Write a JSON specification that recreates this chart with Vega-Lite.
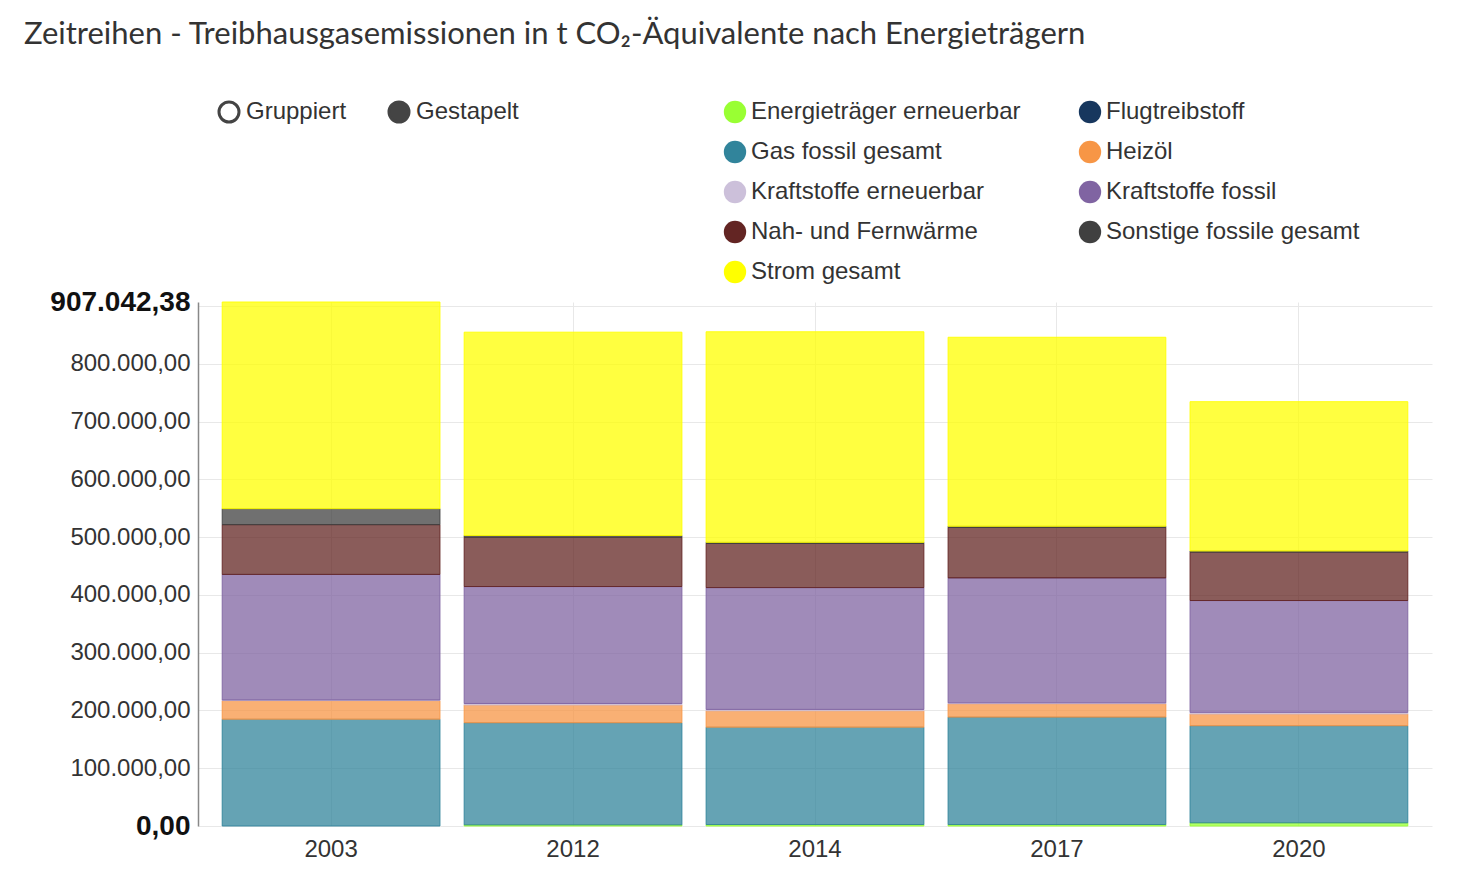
{
  "$schema": "https://vega.github.io/schema/vega-lite/v6.json",
  "autosize": {"type": "none"},
  "width": 1234,
  "height": 524,
  "padding": {"left": 198, "top": 302, "right": 28, "bottom": 53},
  "background": "white",
  "title": {
    "text": "Zeitreihen - Treibhausgasemissionen in t CO₂-Äquivalente nach Energieträgern",
    "anchor": "start",
    "frame": "group",
    "orient": "top",
    "offset": 49,
    "dx": -174,
    "font": "Lato",
    "fontSize": 31,
    "fontWeight": "normal",
    "color": "#333333"
  },
  "config": {
    "locale": {"number": {"decimal": ",", "thousands": ".", "grouping": [3], "currency": ["", " €"]}},
    "view": {"stroke": null},
    "axis": {"labelFont": "Liberation Sans", "labelColor": "#333333"}
  },
  "layer": [
    {
      "data": {
        "values": [
          {"Jahr": "2003", "Energietraeger": "Gas fossil gesamt", "Wert": 184900},
          {"Jahr": "2003", "Energietraeger": "Heizöl", "Wert": 32200},
          {"Jahr": "2003", "Energietraeger": "Kraftstoffe erneuerbar", "Wert": 1000},
          {"Jahr": "2003", "Energietraeger": "Kraftstoffe fossil", "Wert": 217400},
          {"Jahr": "2003", "Energietraeger": "Nah- und Fernwärme", "Wert": 86100},
          {"Jahr": "2003", "Energietraeger": "Sonstige fossile gesamt", "Wert": 27700},
          {"Jahr": "2003", "Energietraeger": "Strom gesamt", "Wert": 357742.38},
          {"Jahr": "2012", "Energietraeger": "Energieträger erneuerbar", "Wert": 2000},
          {"Jahr": "2012", "Energietraeger": "Gas fossil gesamt", "Wert": 176800},
          {"Jahr": "2012", "Energietraeger": "Heizöl", "Wert": 30700},
          {"Jahr": "2012", "Energietraeger": "Kraftstoffe erneuerbar", "Wert": 2600},
          {"Jahr": "2012", "Energietraeger": "Kraftstoffe fossil", "Wert": 202400},
          {"Jahr": "2012", "Energietraeger": "Nah- und Fernwärme", "Wert": 85400},
          {"Jahr": "2012", "Energietraeger": "Sonstige fossile gesamt", "Wert": 2900},
          {"Jahr": "2012", "Energietraeger": "Strom gesamt", "Wert": 352000},
          {"Jahr": "2014", "Energietraeger": "Energieträger erneuerbar", "Wert": 2500},
          {"Jahr": "2014", "Energietraeger": "Gas fossil gesamt", "Wert": 168600},
          {"Jahr": "2014", "Energietraeger": "Heizöl", "Wert": 28400},
          {"Jahr": "2014", "Energietraeger": "Kraftstoffe erneuerbar", "Wert": 2300},
          {"Jahr": "2014", "Energietraeger": "Kraftstoffe fossil", "Wert": 210900},
          {"Jahr": "2014", "Energietraeger": "Nah- und Fernwärme", "Wert": 76300},
          {"Jahr": "2014", "Energietraeger": "Sonstige fossile gesamt", "Wert": 2000},
          {"Jahr": "2014", "Energietraeger": "Strom gesamt", "Wert": 364500},
          {"Jahr": "2017", "Energietraeger": "Energieträger erneuerbar", "Wert": 2500},
          {"Jahr": "2017", "Energietraeger": "Gas fossil gesamt", "Wert": 186000},
          {"Jahr": "2017", "Energietraeger": "Heizöl", "Wert": 23200},
          {"Jahr": "2017", "Energietraeger": "Kraftstoffe erneuerbar", "Wert": 1500},
          {"Jahr": "2017", "Energietraeger": "Kraftstoffe fossil", "Wert": 216300},
          {"Jahr": "2017", "Energietraeger": "Nah- und Fernwärme", "Wert": 87300},
          {"Jahr": "2017", "Energietraeger": "Sonstige fossile gesamt", "Wert": 2000},
          {"Jahr": "2017", "Energietraeger": "Strom gesamt", "Wert": 327200},
          {"Jahr": "2020", "Energietraeger": "Energieträger erneuerbar", "Wert": 5500},
          {"Jahr": "2020", "Energietraeger": "Gas fossil gesamt", "Wert": 168100},
          {"Jahr": "2020", "Energietraeger": "Heizöl", "Wert": 20300},
          {"Jahr": "2020", "Energietraeger": "Kraftstoffe erneuerbar", "Wert": 2800},
          {"Jahr": "2020", "Energietraeger": "Kraftstoffe fossil", "Wert": 193600},
          {"Jahr": "2020", "Energietraeger": "Nah- und Fernwärme", "Wert": 83700},
          {"Jahr": "2020", "Energietraeger": "Sonstige fossile gesamt", "Wert": 2000},
          {"Jahr": "2020", "Energietraeger": "Strom gesamt", "Wert": 258500}
        ]
      },
      "mark": {"type": "bar", "fillOpacity": 0.75, "strokeWidth": 1, "strokeOpacity": 0.9},
      "encoding": {
        "x": {
          "field": "Jahr",
          "type": "ordinal",
          "scale": {"paddingInner": 0.1, "paddingOuter": 0.1},
          "axis": {
            "title": null,
            "domain": false,
            "ticks": false,
            "grid": true,
            "gridColor": "#e8e8e8",
            "bandPosition": 0.5,
            "labelAngle": 0,
            "labelFontSize": 24,
            "labelPadding": 11
          }
        },
        "y": {
          "field": "Wert",
          "type": "quantitative",
          "stack": "zero",
          "scale": {"domain": [0, 907042.38], "nice": false, "zero": true},
          "axis": {
            "title": null,
            "values": [0, 100000, 200000, 300000, 400000, 500000, 600000, 700000, 800000, 900000, 907042.38],
            "format": ",.2f",
            "labelExpr": "datum.value == 900000 ? '' : datum.label",
            "ticks": false,
            "domain": true,
            "domainColor": "#888888",
            "domainWidth": 1.5,
            "grid": true,
            "gridColor": "#e8e8e8",
            "gridOpacity": {"condition": {"test": "datum.value > 900001", "value": 0}, "value": 1},
            "labelPadding": 8,
            "labelFontSize": {"condition": {"test": "datum.value == 0 || datum.value > 900001", "value": 28}, "value": 24},
            "labelFontWeight": {"condition": {"test": "datum.value == 0 || datum.value > 900001", "value": "bold"}, "value": "normal"},
            "labelColor": {"condition": {"test": "datum.value == 0 || datum.value > 900001", "value": "#111111"}, "value": "#333333"}
          }
        },
        "order": {"field": "Energietraeger", "sort": "ascending"},
        "color": {
          "field": "Energietraeger",
          "type": "nominal",
          "scale": {
            "domain": ["Energieträger erneuerbar", "Flugtreibstoff", "Gas fossil gesamt", "Heizöl", "Kraftstoffe erneuerbar", "Kraftstoffe fossil", "Nah- und Fernwärme", "Sonstige fossile gesamt", "Strom gesamt"],
            "range": ["#99ff33", "#17375e", "#31849b", "#f79646", "#ccc0da", "#8064a2", "#632523", "#404040", "#ffff00"]
          },
          "legend": {
            "title": null,
            "orient": "none",
            "legendX": 525,
            "legendY": -202,
            "columns": 2,
            "direction": "horizontal",
            "symbolType": "circle",
            "symbolSize": 500,
            "symbolStrokeWidth": 0,
            "symbolOpacity": 1,
            "labelFont": "Liberation Sans",
            "labelFontSize": 24,
            "labelColor": "#333333",
            "labelOffset": 4,
            "labelLimit": 400,
            "rowPadding": 16,
            "columnPadding": 57,
            "encode": {"symbols": {"update": {"fillOpacity": {"value": 1}, "strokeWidth": {"value": 0}}}}
          }
        },
        "stroke": {
          "field": "Energietraeger",
          "type": "nominal",
          "scale": {
            "domain": ["Energieträger erneuerbar", "Flugtreibstoff", "Gas fossil gesamt", "Heizöl", "Kraftstoffe erneuerbar", "Kraftstoffe fossil", "Nah- und Fernwärme", "Sonstige fossile gesamt", "Strom gesamt"],
            "range": ["#99ff33", "#17375e", "#31849b", "#f79646", "#ccc0da", "#8064a2", "#632523", "#404040", "#ffff00"]
          },
          "legend": null
        }
      }
    },
    {
      "data": {"values": [{"Modus": "Gruppiert"}, {"Modus": "Gestapelt"}]},
      "mark": {"type": "point", "filled": true, "opacity": 0},
      "encoding": {
        "fill": {
          "field": "Modus",
          "type": "nominal",
          "scale": {"domain": ["Gruppiert", "Gestapelt"], "range": ["#ffffff", "#444444"]},
          "legend": {
            "title": null,
            "orient": "none",
            "legendX": 19,
            "legendY": -202,
            "direction": "horizontal",
            "symbolType": "circle",
            "symbolSize": 400,
            "symbolStrokeColor": "#444444",
            "symbolStrokeWidth": 3,
            "symbolOpacity": 1,
            "labelFont": "Liberation Sans",
            "labelFontSize": 24,
            "labelColor": "#333333",
            "labelOffset": 5,
            "columnPadding": 36,
            "encode": {"symbols": {"update": {"opacity": {"value": 1}, "fillOpacity": {"value": 1}, "strokeOpacity": {"value": 1}}}}
          }
        }
      }
    }
  ]
}
